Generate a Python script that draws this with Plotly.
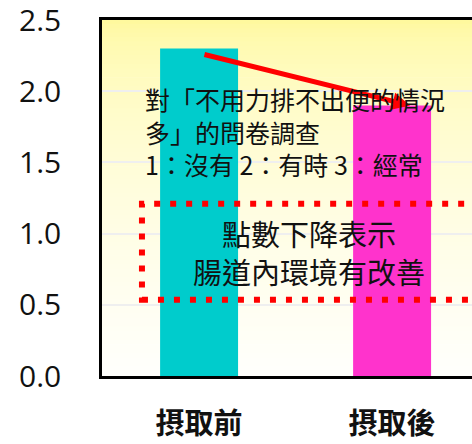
import plotly.graph_objects as go

# Survey scores before / after intake
categories = ["摂取前", "摂取後"]
scores = [2.3, 1.9]
bar_colors = ["#00CCCC", "#FF33CC"]

y_ticks = [0.0, 0.5, 1.0, 1.5, 2.0, 2.5]
y_tick_text = ["0.0", "0.5", "1.0", "1.5", "2.0", "2.5"]

note_lines = ["對「不用力排不出便的情況", "多」的問卷調查", "1：沒有 2：有時 3：經常"]
box_lines = ["點數下降表示", "腸道內環境有改善"]

CJK = "Noto Sans CJK TC"

fig = go.Figure()
fig.add_trace(go.Bar(
    x=categories, y=scores, width=0.404,
    marker=dict(color=bar_colors, line=dict(width=0)),
    hoverinfo="skip",
))

shapes = []
# plot-area gradient: pale yellow at the top fading to white
n_bands = 80
top = (255, 248, 150)
bottom = (255, 255, 252)
for i in range(n_bands):
    t = (i + 0.5) / n_bands  # 0 at top, 1 at bottom
    k = t ** 0.5
    c = tuple(round(top[j] + (bottom[j] - top[j]) * k) for j in range(3))
    y1 = 1 - i / n_bands
    y0 = 1 - (i + 1) / n_bands
    shapes.append(dict(
        type="rect", xref="paper", yref="paper", x0=0, x1=1, y0=y0, y1=y1 + 0.002,
        fillcolor="rgb(%d,%d,%d)" % c, line=dict(width=0), layer="below",
    ))

# dotted red frame around the conclusion
shapes.append(dict(
    type="rect", xref="paper", yref="y", x0=0.108, x1=1.3, y0=0.535, y1=1.21,
    line=dict(color="#FF0000", width=6, dash="6px,10px"), fillcolor="rgba(0,0,0,0)",
    layer="above",
))

annotations = []
# trend arrow from the first bar to the second
annotations.append(dict(
    x=1.093, y=1.90, ax=0.02, ay=2.26, xref="x", yref="y", axref="x", ayref="y",
    text="", showarrow=True, arrowhead=2, arrowsize=0.7, arrowwidth=5,
    arrowcolor="#FF0000",
))

annotations.append(dict(
    x=0.111, y=1.72, xref="paper", yref="y", text="<br>".join(note_lines),
    showarrow=False, xanchor="left", yanchor="middle", align="left",
    font=dict(family=CJK, size=25, color="#111111"),
))

annotations.append(dict(
    x=0.56, y=0.87, xref="paper", yref="y", text="<br>".join(box_lines),
    showarrow=False, xanchor="center", yanchor="middle", align="center",
    font=dict(family=CJK, size=29, color="#111111"),
))

fig.update_layout(
    width=472, height=444,
    margin=dict(l=102, r=0, t=20, b=68),
    paper_bgcolor="white", plot_bgcolor="white",
    showlegend=False, shapes=shapes, annotations=annotations,
    xaxis=dict(
        range=[-0.503, 1.414], showgrid=False, zeroline=False, automargin=False,
        showline=True, linecolor="black", linewidth=2.5, mirror=True,
        ticks="", ticklabelstandoff=20,
        tickfont=dict(family=CJK, size=29, color="#111111", weight="bold"),
    ),
    yaxis=dict(
        range=[0, 2.5], tickvals=y_ticks, ticktext=y_tick_text, automargin=False,
        showgrid=True, gridcolor="#EFEFEF", gridwidth=2, zeroline=False,
        showline=True, linecolor="black", linewidth=2.5,
        ticks="", ticklabelstandoff=32, ticklabeloverflow="allow",
        tickfont=dict(family="Open Sans", size=30, color="#111111"),
    ),
)

fig.write_html("out.html")
